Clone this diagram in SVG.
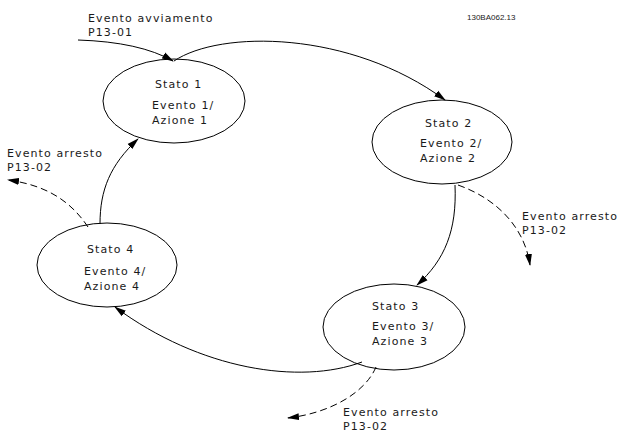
<svg xmlns="http://www.w3.org/2000/svg" width="618" height="433" viewBox="0 0 618 433">
<style>
.node ellipse{fill:none;stroke:#000;stroke-width:1}
text{font-family:"DejaVu Sans",Verdana,sans-serif;font-size:11px;letter-spacing:1.1px;fill:#1a1a1a}
.c path{fill:none;stroke:#000;stroke-width:1}
.c .d{stroke-dasharray:7 4}
.id{font-family:"Liberation Sans",Arial,sans-serif;font-size:8px;letter-spacing:0}
</style>
<defs>
<marker id="ah" markerWidth="12" markerHeight="8" refX="11" refY="4" orient="auto" markerUnits="userSpaceOnUse">
<path d="M0,0.5 L12,4 L0,7.5 Z" fill="#000"/>
</marker>
</defs>
<rect width="618" height="433" fill="#fff"/>
<text class="id" x="467" y="20">130BA062.13</text>
<g id="s1" class="node">
<ellipse cx="174" cy="101" rx="71" ry="42"/>
<text x="155" y="88">Stato 1</text>
<text x="152" y="109">Evento 1/</text>
<text x="152" y="124">Azione 1</text>
</g>
<g id="s2" class="node">
<ellipse cx="442" cy="142" rx="70" ry="42"/>
<text x="425" y="127">Stato 2</text>
<text x="420" y="147">Evento 2/</text>
<text x="420" y="162">Azione 2</text>
</g>
<g id="s3" class="node">
<ellipse cx="394" cy="327" rx="71" ry="43"/>
<text x="372" y="310">Stato 3</text>
<text x="372" y="330">Evento 3/</text>
<text x="372" y="345">Azione 3</text>
</g>
<g id="s4" class="node">
<ellipse cx="107" cy="265" rx="70" ry="42"/>
<text x="87" y="253">Stato 4</text>
<text x="84" y="275">Evento 4/</text>
<text x="84" y="290">Azione 4</text>
</g>
<g id="labels">
<text x="88" y="22">Evento avviamento</text>
<text x="88" y="36">P13-01</text>
<text x="7" y="157">Evento arresto</text>
<text x="7" y="171">P13-02</text>
<text x="522" y="220">Evento arresto</text>
<text x="522" y="234">P13-02</text>
<text x="343" y="416">Evento arresto</text>
<text x="343" y="430">P13-02</text>
</g>
<g id="connectors" class="c">
<path d="M78,40 Q140,42 173,61" marker-end="url(#ah)"/>
<path d="M174,61 C220,30 350,30 445,100" marker-end="url(#ah)"/>
<path d="M455,185 C457,230 445,260 417,285" marker-end="url(#ah)"/>
<path d="M362,362 C300,385 200,370 115,307" marker-end="url(#ah)"/>
<path d="M100,224 C100,190 110,165 138,139" marker-end="url(#ah)"/>
<path class="d" d="M88,227 C70,200 45,185 8,180" marker-end="url(#ah)"/>
<path class="d" d="M458,185 C500,200 525,230 530,265" marker-end="url(#ah)"/>
<path class="d" d="M376,367 C365,393 330,413 288,418" marker-end="url(#ah)"/>
</g>
</svg>
